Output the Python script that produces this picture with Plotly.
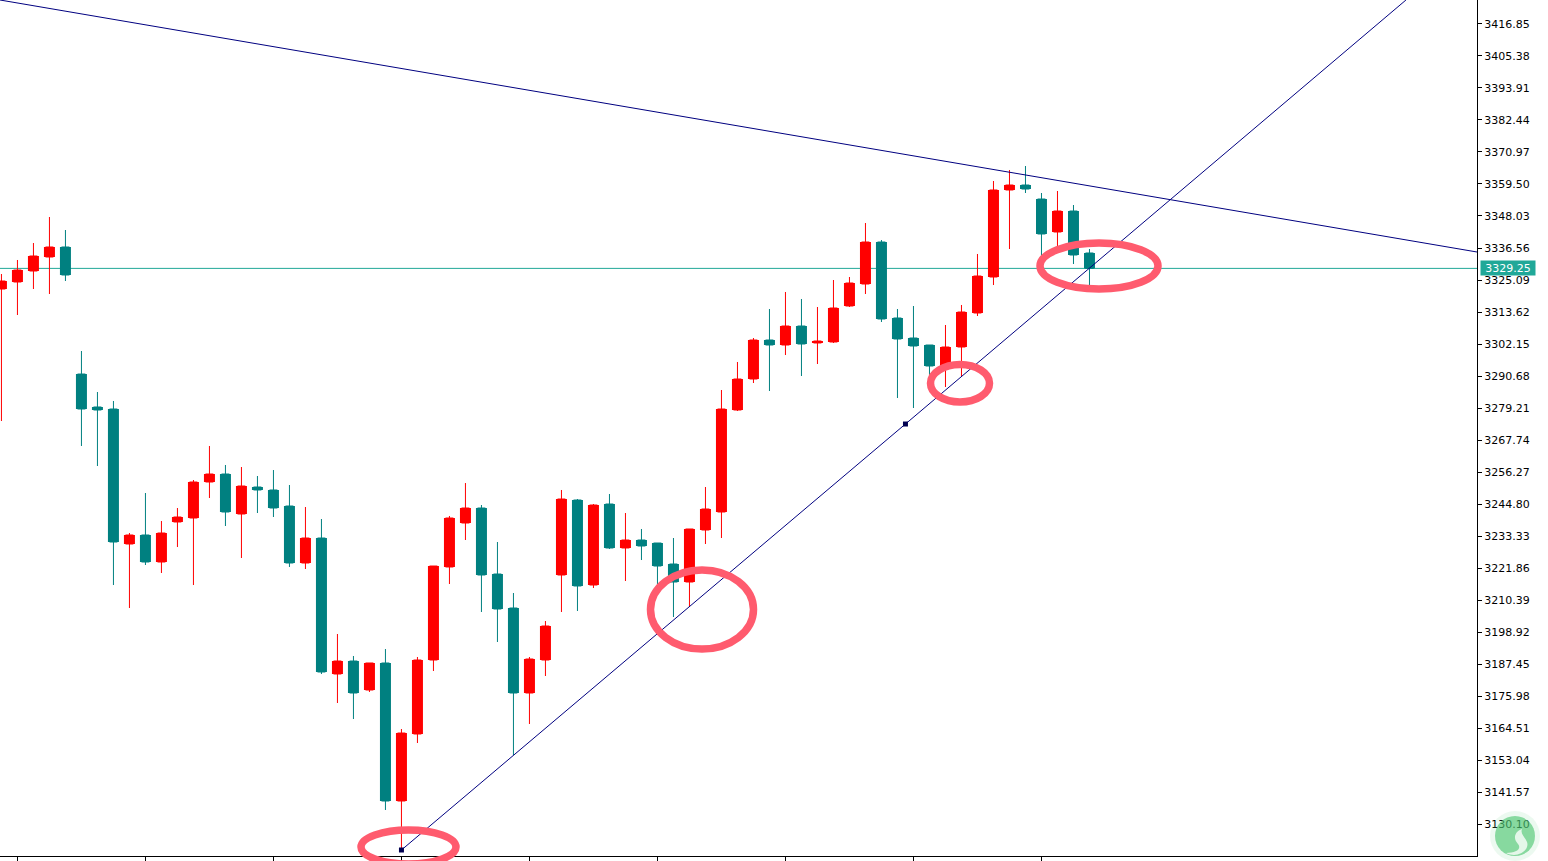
import plotly.graph_objects as go

# ---------- data ----------
direction = list("UUUUDDDDUDUUUUDUDDDUDUDUDUUUUUDDDUUUDUDUDDDUUUUUDUDUUUUDDDDUUUUUDDUDD")
high = [3327.24,3332.26,3338.35,3347.67,3343.01,3299.64,3284.94,3281.72,3234.40,3248.74,
        3238.70,3243.36,3253.40,3265.59,3258.78,3258.06,3254.83,3256.98,3251.61,3243.72,
        3239.42,3198.20,3190.32,3187.81,3192.82,3164.15,3189.96,3222.57,3240.50,3252.32,
        3244.44,3231.18,3212.90,3189.96,3202.86,3249.82,3246.59,3244.80,3248.38,3241.57,
        3235.84,3230.82,3232.61,3235.84,3250.89,3285.66,3295.70,3304.30,3314.69,3320.79,
        3318.28,3315.41,3325.09,3326.16,3345.52,3339.42,3314.69,3315.77,3301.79,3308.96,
        3316.13,3334.41,3360.57,3364.52,3365.95,3356.27,3356.99,3351.97,3336.20]
body_top = [3324.73,3328.67,3333.69,3336.92,3336.92,3291.39,3279.57,3278.85,3233.69,3233.69,
            3234.40,3240.14,3252.68,3255.55,3255.55,3251.25,3250.89,3249.82,3244.08,3232.61,
            3232.61,3188.52,3188.52,3187.81,3187.81,3162.71,3188.88,3222.57,3239.78,3243.36,
            3243.36,3219.71,3207.52,3189.24,3201.07,3246.59,3246.23,3244.44,3244.80,3231.89,
            3231.89,3230.82,3223.29,3235.84,3243.01,3278.85,3289.60,3303.58,3303.58,3308.60,
            3308.60,3303.22,3315.05,3324.01,3338.71,3338.71,3311.47,3304.30,3301.79,3301.07,
            3313.62,3326.52,3357.35,3359.14,3359.14,3354.12,3349.82,3349.82,3334.77]
body_bottom = [3321.86,3324.37,3328.31,3333.33,3326.88,3278.85,3278.49,3231.18,3230.46,3224.01,
               3224.01,3238.35,3239.78,3252.68,3241.93,3241.21,3249.82,3243.36,3223.65,3223.65,
               3184.58,3183.86,3177.05,3178.13,3138.34,3138.34,3162.36,3188.88,3222.22,3237.99,
               3219.35,3207.16,3177.05,3177.05,3188.88,3219.35,3215.41,3215.76,3229.03,3229.03,
               3229.74,3222.57,3216.84,3216.84,3235.48,3241.93,3278.49,3289.60,3301.79,3301.79,
               3302.15,3302.51,3302.86,3315.77,3323.65,3311.11,3303.94,3301.43,3294.26,3294.26,
               3301.07,3313.26,3326.16,3357.35,3357.70,3341.58,3342.29,3334.05,3329.25]
low = [3274.55,3312.54,3321.86,3320.07,3324.73,3265.59,3258.42,3215.76,3207.52,3222.93,
       3220.07,3229.38,3215.76,3246.95,3236.91,3225.44,3241.57,3240.14,3222.22,3221.50,
       3183.86,3173.47,3167.73,3177.41,3135.12,3120.78,3159.13,3184.94,3216.12,3231.89,
       3206.09,3195.33,3154.83,3165.94,3183.15,3206.09,3206.45,3214.69,3228.67,3217.20,
       3224.72,3214.69,3204.29,3207.88,3230.46,3232.61,3278.13,3288.17,3285.30,3298.20,
       3290.68,3294.98,3302.51,3315.41,3320.07,3310.03,3282.79,3279.21,3291.04,3286.73,
       3290.68,3312.18,3323.29,3336.20,3356.27,3332.97,3335.84,3330.82,3323.29]

price_ticks = [3416.85,3405.38,3393.91,3382.44,3370.97,3359.50,3348.03,3336.56,3325.09,
               3313.62,3302.15,3290.68,3279.21,3267.74,3256.27,3244.80,3233.33,3221.86,
               3210.39,3198.92,3187.45,3175.98,3164.51,3153.04,3141.57,3130.10]
time_ticks = [1, 9, 17, 25, 33, 41, 49, 57, 65]
last_price = 3329.25

support_x = [25, 56.5, 87.78]
support_y = [3120.78, 3273.47, 3425.45]
resist_x = [-0.09, 92.22]
resist_y = [3425.45, 3335.12]
anchor_x = [25, 56.5]
anchor_y = [3120.78, 3273.47]

# ---------- styles ----------
UP, DOWN, NAVY, SEA, RING = "#FF0000", "#008080", "#000080", "#20A898", "#FF5B6E"
W, H, AX_R, AX_B = 1548, 861, 1477, 856
FONT = "DejaVu Sans"
BODY_WIDTH = 11 / 16

opens = [b if d == "U" else t for d, t, b in zip(direction, body_top, body_bottom)]
closes = [t if d == "U" else b for d, t, b in zip(direction, body_top, body_bottom)]
xs = list(range(len(high)))

def px(x):
    return x / AX_R

def py(y):
    return (AX_B - y) / AX_B

def ellipse(x0, x1, y0, y1):
    return dict(type="circle", xref="paper", yref="paper", x0=px(x0), x1=px(x1), y0=py(y1), y1=py(y0),
                line=dict(color=RING, width=7.5), fillcolor="rgba(0,0,0,0)", layer="above")

fig = go.Figure()
# full-width candle bodies (the candlestick trace has a fixed, narrower box)
fig.add_trace(go.Bar(x=xs, y=[t - b for t, b in zip(body_top, body_bottom)], base=body_bottom, width=BODY_WIDTH,
                     marker=dict(color=[UP if d == "U" else DOWN for d in direction], line=dict(width=0)),
                     hoverinfo="skip"))
fig.add_trace(go.Candlestick(x=xs, open=opens, high=high, low=low, close=closes, whiskerwidth=0,
                             increasing=dict(line=dict(color=UP, width=1), fillcolor=UP),
                             decreasing=dict(line=dict(color=DOWN, width=1), fillcolor=DOWN)))
fig.add_trace(go.Scatter(x=support_x, y=support_y, mode="lines", line=dict(color=NAVY, width=1), hoverinfo="skip"))
fig.add_trace(go.Scatter(x=resist_x, y=resist_y, mode="lines", line=dict(color=NAVY, width=1), hoverinfo="skip"))
fig.add_trace(go.Scatter(x=anchor_x, y=anchor_y, mode="markers",
                         marker=dict(symbol="square", size=5, color="#000050"), hoverinfo="skip"))

shapes = [dict(type="line", xref="paper", yref="y", x0=0, x1=1, y0=last_price, y1=last_price,
               line=dict(color=SEA, width=1), layer="below"),
          ellipse(361, 456, 830, 864), ellipse(650.5, 753.5, 570, 649),
          ellipse(930.5, 989.5, 364.5, 402), ellipse(1040, 1158, 243, 289)]
# watermark logo (translucent, the tick text shows through)
shapes.append(dict(type="circle", xref="paper", yref="paper", x0=px(1490), x1=px(1540), y0=py(861), y1=py(811),
                   line=dict(width=0), fillcolor="#7FD89A", opacity=0.15, layer="above"))
shapes.append(dict(type="circle", xref="paper", yref="paper", x0=px(1495), x1=px(1535), y0=py(856), y1=py(816),
                   line=dict(width=0), fillcolor="#48C56D", opacity=0.62, layer="above"))
pts = [(1522, 829), (1514, 832), (1513, 839), (1518, 844), (1522, 849), (1516, 853), (1506, 853),
       (1518, 859), (1530, 850), (1527, 842), (1525, 837), (1520, 834), (1522, 829)]
path = f"M {px(pts[0][0])} {py(pts[0][1])} "
for k in range(1, len(pts) - 2, 3):
    path += "C " + " ".join(f"{px(a)} {py(b)}" for a, b in pts[k:k + 3]) + " "
shapes.append(dict(type="path", xref="paper", yref="paper", path=path + "Z",
                   line=dict(width=0), fillcolor="#F4FBF6", opacity=0.85, layer="above"))

fig.update_layout(
    width=W, height=H, margin=dict(l=0, r=W - AX_R, t=0, b=H - AX_B),
    paper_bgcolor="white", plot_bgcolor="white", showlegend=False,
    font=dict(family=FONT, size=11, color="black"), shapes=shapes,
    xaxis=dict(range=[-0.09, 92.22], rangeslider=dict(visible=False), showgrid=False, zeroline=False,
               tickmode="array", tickvals=time_ticks, showticklabels=False, ticks="outside", ticklen=5,
               tickcolor="black", showline=True, linecolor="black", linewidth=1),
    yaxis=dict(range=[3118.63, 3425.45], side="right", showgrid=False, zeroline=False, tickmode="array",
               tickvals=price_ticks, ticktext=[f"{v:.2f}" for v in price_ticks], ticks="outside", ticklen=4,
               tickcolor="black", showline=True, linecolor="black", linewidth=1,
               tickfont=dict(family=FONT, size=11, color="black")),
    annotations=[dict(xref="paper", yref="y", x=1, y=last_price, xanchor="left", xshift=3, showarrow=False,
                      text=f"{last_price:.2f}", bgcolor=SEA, width=54, height=14, borderpad=0,
                      font=dict(family=FONT, size=11, color="white"))],
)

fig.write_html("out.html", config={"displayModeBar": False},
               post_script="document.body.style.margin='0';document.body.style.overflow='hidden';")
